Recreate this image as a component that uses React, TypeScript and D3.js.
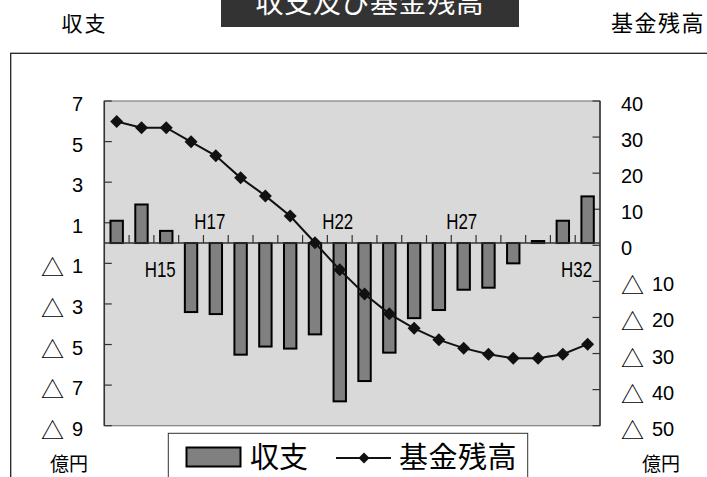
import React from "react";
import * as d3 from "d3";

// 年度（平成）
const categories = [
  "H13", "H14", "H15", "H16", "H17", "H18", "H19", "H20", "H21", "H22",
  "H23", "H24", "H25", "H26", "H27", "H28", "H29", "H30", "H31", "H32",
];

// 収支（億円）
const balance = [
  1.1, 1.9, 0.6, -3.4, -3.5, -5.5, -5.1, -5.2, -4.5, -7.8,
  -6.8, -5.4, -3.7, -3.3, -2.3, -2.2, -1.0, 0.1, 1.1, 2.3,
];

// 基金残高（億円）
const fund = [
  34.3, 32.6, 32.6, 28.7, 24.8, 18.7, 13.7, 8.1, 0.7, -6.8,
  -13.5, -19.0, -23.0, -26.2, -28.5, -30.2, -31.3, -31.3, -30.2, -27.4,
];

const leftTicks = [7, 5, 3, 1, -1, -3, -5, -7, -9];
const rightTicks = [40, 30, 20, 10, 0, -10, -20, -30, -40, -50];
// 軸上に表示する年度ラベルと位置（上側 / 下側）
const shownLabels = [
  { cat: "H15", side: "below" },
  { cat: "H17", side: "above" },
  { cat: "H22", side: "above" },
  { cat: "H27", side: "above" },
  { cat: "H32", side: "below" },
];

const W = 707;
const H = 477;
const LATIN = "'Liberation Sans', Arial, sans-serif";
const CJK = "'Noto Sans CJK JP', 'Noto Sans CJK SC', sans-serif";

const plot = { left: 104.3, right: 600, top: 101, bottom: 425.7 };

const x = d3
  .scaleBand<string>()
  .domain(categories)
  .range([plot.left, plot.right])
  .paddingInner(0.5)
  .paddingOuter(0.25);

const xStep = d3.scaleBand<string>().domain(categories).range([plot.left, plot.right]);

const yL = d3.scaleLinear().domain([-9, 7]).range([plot.bottom, plot.top]);
const yR = d3.scaleLinear().domain([-50, 40]).range([plot.bottom, plot.top]);

// 負の値は「△」付きで表示する
function TickLabel({ v, x0, y0, anchor }: { v: number; x0: number; y0: number; anchor: "start" | "end" }) {
  const neg = v < 0;
  const num = String(Math.abs(v));
  return (
    <text x={x0} y={y0} textAnchor={anchor} fontSize={20} fontFamily={LATIN} fill="#000" dominantBaseline="central">
      {neg && (
        <tspan fontFamily={CJK} fontSize={23}>
          △
        </tspan>
      )}
      {neg ? <tspan dx={8}>{num}</tspan> : num}
    </text>
  );
}

export default function App() {
  const zeroY = yL(0);
  const line = d3
    .line<number>()
    .x((_, i) => (xStep(categories[i]) as number) + xStep.bandwidth() / 2)
    .y((d) => yR(d));

  const diamond = (cx: number, cy: number, r: number) =>
    `M${cx},${cy - r}L${cx + r},${cy}L${cx},${cy + r}L${cx - r},${cy}Z`;

  return (
    <svg width={W} height={H} style={{ position: "absolute", left: 0, top: 0, background: "#fff" }}>
      {/* 外枠 */}
      <rect x={10.7} y={53.3} width={760} height={500} fill="#fff" stroke="#222" strokeWidth={1.3} />

      {/* タイトル */}
      <rect x={221} y={0} width={298} height={27} fill="#333" />
      <text x={370} y={13} textAnchor="middle" fontSize={28} fontFamily={CJK} fill="#fff" letterSpacing={0.6}>
        収支及び基金残高
      </text>

      {/* 軸タイトル */}
      <text x={84.5} y={31} textAnchor="middle" fontSize={21} fontFamily={CJK} letterSpacing={2}>
        収支
      </text>
      <text x={658} y={31} textAnchor="middle" fontSize={22} fontFamily={CJK} letterSpacing={1.5}>
        基金残高
      </text>

      {/* プロットエリア */}
      <rect
        x={plot.left}
        y={plot.top}
        width={plot.right - plot.left}
        height={plot.bottom - plot.top}
        fill="#d9d9d9"
        stroke="#808080"
        strokeWidth={1.2}
      />

      {/* 左軸 */}
      <line x1={plot.left} x2={plot.left} y1={plot.top} y2={plot.bottom} stroke="#333" strokeWidth={1.5} />
      {leftTicks.map((t) => (
        <g key={"l" + t}>
          <line x1={plot.left} x2={plot.left + 7.5} y1={yL(t)} y2={yL(t)} stroke="#333" strokeWidth={1.2} />
          <TickLabel v={t} x0={83} y0={yL(t) + 3} anchor="end" />
        </g>
      ))}

      {/* 右軸 */}
      <line x1={plot.right} x2={plot.right} y1={plot.top} y2={plot.bottom} stroke="#333" strokeWidth={1.5} />
      {rightTicks.map((t) => (
        <g key={"r" + t}>
          <line x1={plot.right - 7.5} x2={plot.right} y1={yR(t)} y2={yR(t)} stroke="#333" strokeWidth={1.2} />
          <TickLabel v={t} x0={621} y0={yR(t) + 3} anchor="start" />
        </g>
      ))}

      {/* 棒：収支 */}
      {balance.map((v, i) => {
        const y0 = yL(Math.max(0, v));
        const y1 = yL(Math.min(0, v));
        return (
          <rect
            key={"b" + i}
            x={x(categories[i])}
            y={y0}
            width={x.bandwidth()}
            height={Math.max(1, y1 - y0)}
            fill="#808080"
            stroke="#000"
            strokeWidth={2}
          />
        );
      })}

      {/* 横軸（0） */}
      <line x1={plot.left} x2={plot.right} y1={zeroY} y2={zeroY} stroke="#333" strokeWidth={1.5} />
      {categories.slice(1).map((c) => (
        <line
          key={"t" + c}
          x1={xStep(c)}
          x2={xStep(c)}
          y1={zeroY}
          y2={zeroY - 8}
          stroke="#333"
          strokeWidth={1.2}
        />
      ))}

      {/* 年度ラベル */}
      {shownLabels.map(({ cat, side }) => {
        const cx = (xStep(cat) as number) + xStep.bandwidth() / 2;
        const isLast = cat === categories[categories.length - 1];
        const isEarly = cat === "H15" || cat === "H17";
        const lx = isLast ? cx - 11 : isEarly ? cx - 6 : cx - 2;
        const ly = side === "above" ? zeroY - 22 : zeroY + 26;
        return (
          <text
            key={"c" + cat}
            x={lx}
            y={ly + 8}
            textAnchor="middle"
            fontSize={22.5}
            fontFamily={LATIN}
            textLength={31}
            lengthAdjust="spacingAndGlyphs"
          >
            {cat}
          </text>
        );
      })}

      {/* 折れ線：基金残高 */}
      <path d={line(fund) || ""} fill="none" stroke="#111" strokeWidth={2} />
      {fund.map((v, i) => {
        const cx = (xStep(categories[i]) as number) + xStep.bandwidth() / 2;
        return <path key={"m" + i} d={diamond(cx, yR(v), 6.5)} fill="#111" />;
      })}

      {/* 単位 */}
      <text x={69} y={471} textAnchor="middle" fontSize={19} fontFamily={CJK}>
        億円
      </text>
      <text x={661} y={471} textAnchor="middle" fontSize={19} fontFamily={CJK}>
        億円
      </text>

      {/* 凡例 */}
      <rect x={168.3} y={433.3} width={359.4} height={80} fill="#fff" stroke="#333" strokeWidth={1} />
      <rect x={186.5} y={447.5} width={54} height={19} fill="#808080" stroke="#000" strokeWidth={2} />
      <text x={250} y={468} fontSize={29} fontFamily={CJK}>
        収支
      </text>
      <line x1={336} x2={391} y1={458} y2={458} stroke="#111" strokeWidth={2} />
      <path d={diamond(364, 458, 5.5)} fill="#111" />
      <text x={399} y={468} fontSize={29} fontFamily={CJK} letterSpacing={0.5}>
        基金残高
      </text>
    </svg>
  );
}
